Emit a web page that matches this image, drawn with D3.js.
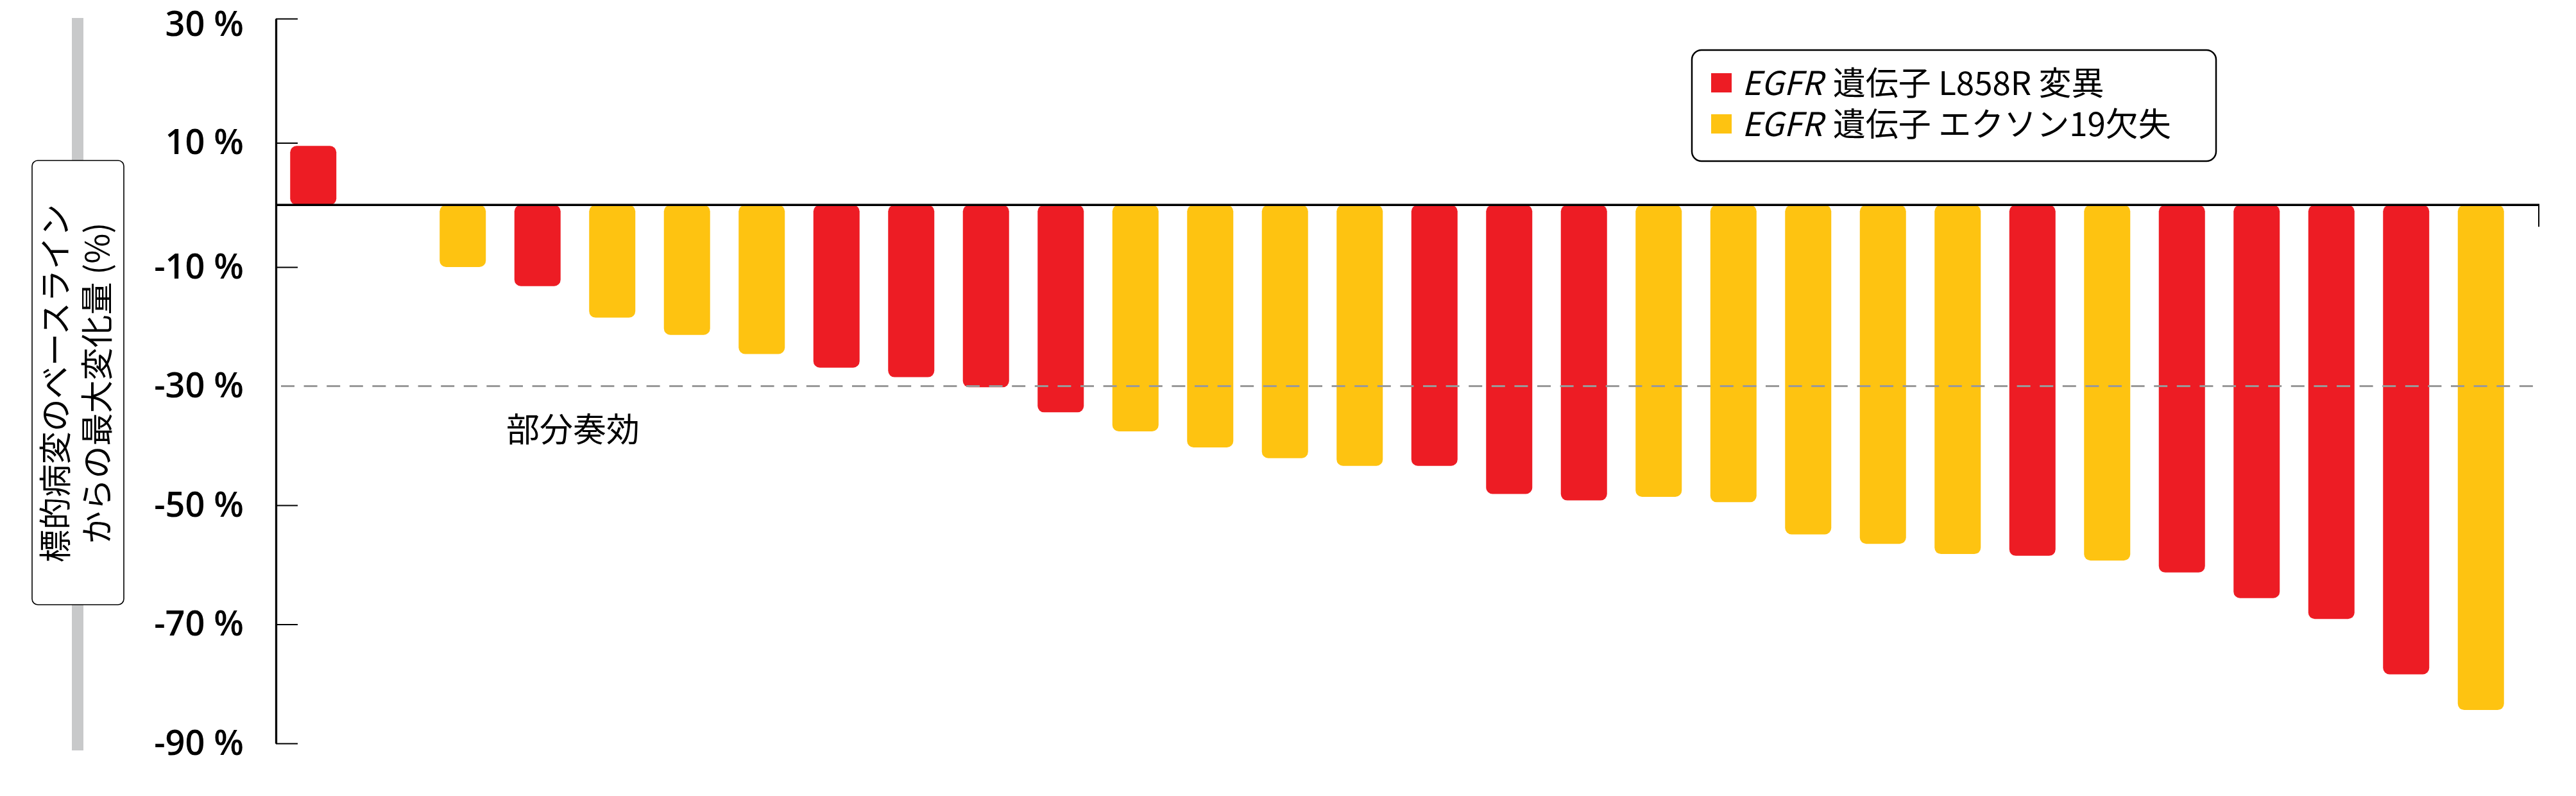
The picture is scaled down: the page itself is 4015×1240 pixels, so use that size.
<!DOCTYPE html>
<html><head><meta charset="utf-8">
<script src="https://cdn.jsdelivr.net/npm/d3@7"></script>
<style>html,body{margin:0;padding:0;background:#fff;} svg{display:block;}</style>
</head><body>
<svg id="chart" width="4015" height="1240"></svg>
<script>
// ---- data ----
const patients = ["1","2","3","4","5","6","7","8","9","10","11","12","13","14","15",
                  "16","17","18","19","20","21","22","23","24","25","26","27","28","29","30"];
const changeValues = [9.5, 0, -10.0, -13.2, -18.5, -21.4, -24.6, -26.9, -28.5, -30.2,
                      -34.4, -37.6, -40.3, -42.1, -43.4, -43.4, -48.1, -49.2, -48.6, -49.5,
                      -54.9, -56.5, -58.2, -58.5, -59.3, -61.3, -65.6, -69.1, -78.4, -84.4];
const mutationTypes = ["L858R","L858R","Ex19","L858R","Ex19","Ex19","Ex19","L858R","L858R","L858R",
                       "L858R","Ex19","Ex19","Ex19","Ex19","L858R","L858R","L858R","Ex19","Ex19",
                       "Ex19","Ex19","Ex19","L858R","Ex19","L858R","L858R","L858R","L858R","Ex19"];
const seriesKeys = ["L858R","Ex19"];
const seriesGene = ["EGFR","EGFR"];
const seriesLabels = ["遺伝子 L858R 変異","遺伝子 エクソン19欠失"];
const yTickValues = [30, 10, -10, -30, -50, -70, -90];
const yTickLabels = ["30 %","10 %","-10 %","-30 %","-50 %","-70 %","-90 %"];
const partialResponseThreshold = -30;
const partialResponseLabel = "部分奏効";
const yTitleLines = ["標的病変のベースライン","からの最大変化量 (%)"];

// ---- styles ----
const colors = {L858R: "#ED1C24", Ex19: "#FEC311"};
const svg = d3.select("#chart");
svg.append("rect").attr("width",4015).attr("height",1240).attr("fill","#fff");

const x = d3.scaleBand().domain(patients).range([430, 3925]).paddingInner(0.382).paddingOuter(0.191);
const y = d3.scaleLinear().domain([30, -10, -90]).range([29, 416, 1158]);

const data = patients.map((p,i)=>({p, v: changeValues[i], t: mutationTypes[i]}));

// y title decoration
svg.append("rect").attr("x",112).attr("y",28).attr("width",18).attr("height",1141).attr("fill","#C8C9CA");
svg.append("rect").attr("x",50).attr("y",250).attr("width",143).attr("height",692)
   .attr("rx",9).attr("fill","#fff").attr("stroke","#000").attr("stroke-width",1.6);
const titleX = [83, 148];
yTitleLines.forEach((line,i)=>{
  svg.append("text").attr("transform",`translate(${titleX[i]},597) rotate(-90)`)
    .attr("text-anchor","middle").attr("dominant-baseline","central")
    .attr("font-family","'Noto Sans CJK JP'").attr("font-size",51).attr("fill","#000")
    .text(line);
});

// bars
svg.append("g").selectAll("rect").data(data.filter(d=>d.v!==0)).join("rect")
  .attr("x", d=>x(d.p)).attr("width", x.bandwidth())
  .attr("y", d=>Math.min(y(d.v), y(0)))
  .attr("height", d=>Math.abs(y(d.v)-y(0)))
  .attr("rx", 10).attr("ry", 10)
  .attr("fill", d=>colors[d.t]);

// threshold dashed line
svg.append("line").attr("x1",438).attr("x2",3958)
  .attr("y1",y(partialResponseThreshold)).attr("y2",y(partialResponseThreshold))
  .attr("stroke","#999").attr("stroke-width",3).attr("stroke-dasharray","21,14.6");
svg.append("text").attr("x",789).attr("y",688)
  .attr("font-family","'Noto Sans CJK JP'").attr("font-size",52).attr("fill","#000")
  .text(partialResponseLabel);

// axes
const axisTicks = svg.append("g").attr("transform","translate(430,0)")
  .call(d3.axisRight(y).tickValues(yTickValues.filter(v=>v!==partialResponseThreshold))
        .tickSize(34).tickSizeOuter(0).tickFormat(""));
axisTicks.select(".domain").attr("stroke","#000").attr("stroke-width",3.3);
axisTicks.selectAll(".tick line").attr("stroke","#000").attr("stroke-width",1.8);

const axisLabels = svg.append("g").attr("transform","translate(430,0)")
  .call(d3.axisLeft(y).tickValues(yTickValues).tickSize(0).tickPadding(50)
        .tickFormat((d,i)=>yTickLabels[i]));
axisLabels.select(".domain").remove();
axisLabels.selectAll("text").attr("font-family","'Open Sans'").attr("font-weight",600)
  .attr("font-size",54).attr("fill","#000");
// top label sits a little below its tick in the reference
axisLabels.selectAll(".tick").filter(d=>d===yTickValues[0]).select("text").attr("y",9);

// zero line
svg.append("line").attr("x1",430).attr("x2",3958).attr("y1",y(0)).attr("y2",y(0))
  .attr("stroke","#000").attr("stroke-width",3.5);
svg.append("line").attr("x1",3957).attr("x2",3957).attr("y1",y(0)).attr("y2",y(0)+34)
  .attr("stroke","#000").attr("stroke-width",2);

// legend
const lg = svg.append("g");
lg.append("rect").attr("x",2637).attr("y",78).attr("width",817).attr("height",173)
  .attr("rx",15).attr("fill","#fff").attr("stroke","#000").attr("stroke-width",2.5);
const rowY = [148, 212];
seriesKeys.forEach((k,i)=>{
  lg.append("rect").attr("x",2667).attr("y",rowY[i]-34).attr("width",32).attr("height",30)
    .attr("fill",colors[k]);
  const g1 = lg.append("text").attr("x",2715).attr("y",rowY[i])
    .attr("font-family","'Noto Sans CJK JP'").attr("font-size",51).attr("font-style","italic")
    .attr("fill","#000").text(seriesGene[i]);
  const w = g1.node().getComputedTextLength();
  lg.append("text").attr("x",2715 + w + 16).attr("y",rowY[i])
    .attr("font-family","'Noto Sans CJK JP'").attr("font-size",51).attr("fill","#000")
    .text(seriesLabels[i]);
});
</script>
</body></html>
